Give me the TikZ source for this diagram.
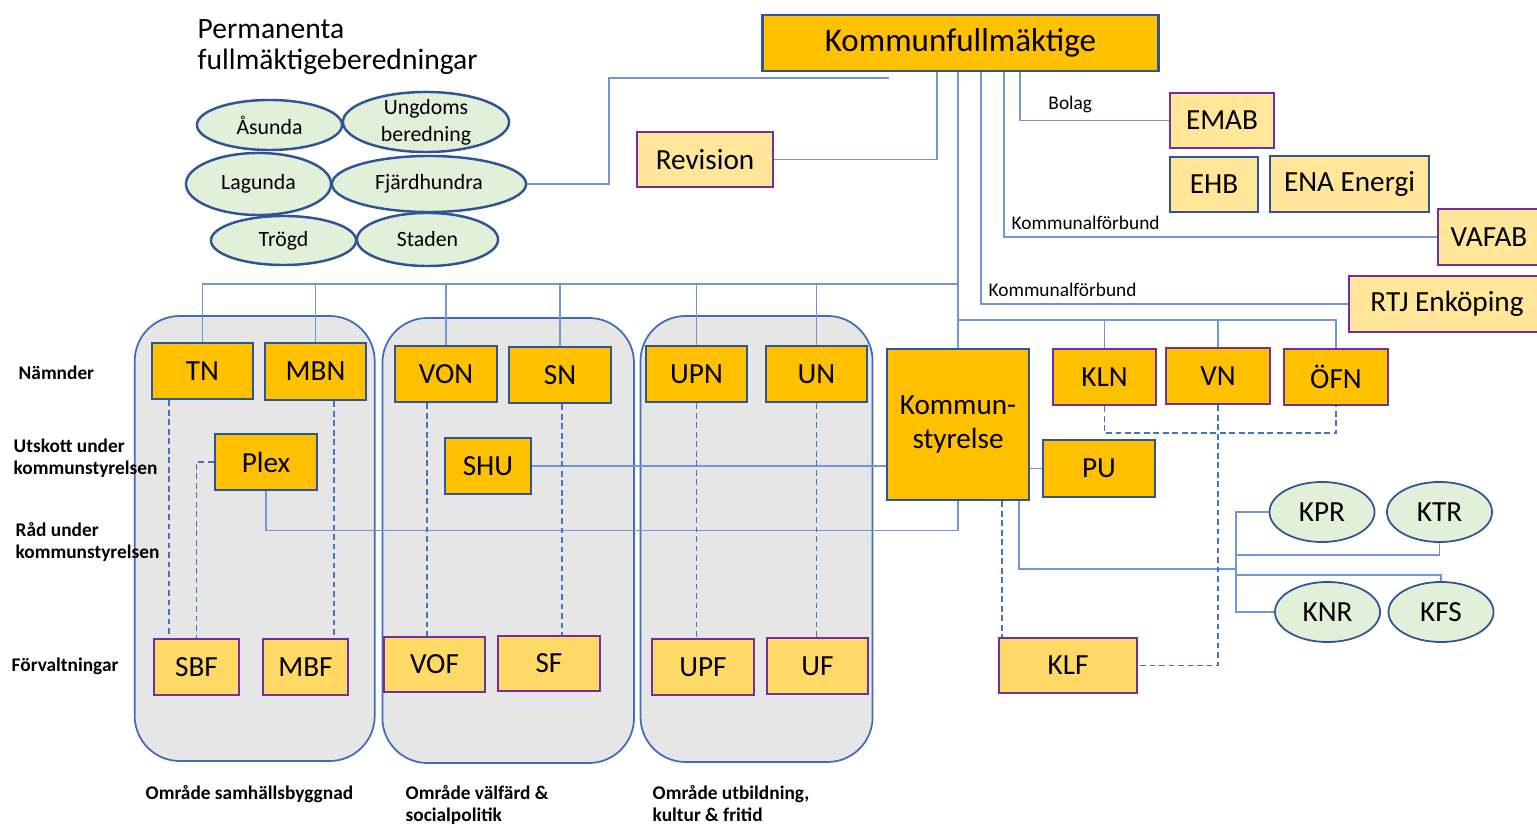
\documentclass[tikz,border=0pt]{standalone}
\usepackage{fontspec}
\setmainfont{Carlito}
\usepackage{tikz}
\usetikzlibrary{shapes}
\definecolor{gul}{HTML}{FFC000}
\definecolor{ljusgul}{HTML}{FFE699}
\definecolor{mellangul}{HTML}{FFD966}
\definecolor{morkbla}{HTML}{2F5597}
\definecolor{lila}{HTML}{7030A0}
\definecolor{linjebla}{HTML}{7397D6}
\definecolor{streckbla}{HTML}{4472C4}
\definecolor{ljusgron}{HTML}{E2F0D9}
\definecolor{gra}{HTML}{E7E6E6}
\tikzset{x=0.01cm, y=-0.01cm, minimum size=0pt, font=\fontsize{8.3}{9.4}\selectfont}
\tikzstyle{org} = [rectangle, line width=0.8pt, inner sep=0pt, minimum height=0.56cm, text centered, align=center]
\tikzstyle{namnd} = [org, draw=morkbla, fill=gul]
\tikzstyle{namndlila} = [org, draw=lila, fill=gul]
\tikzstyle{forv} = [org, draw=lila, fill=mellangul]
\tikzstyle{bolag} = [org, draw=lila, fill=ljusgul]
\tikzstyle{bolagbla} = [org, draw=morkbla, fill=ljusgul]
\tikzstyle{beredning} = [draw=morkbla, fill=ljusgron, ellipse, line width=0.7pt, inner sep=0pt, align=center, font=\fontsize{6.2}{7.6}\selectfont]
\tikzstyle{rad} = [draw=morkbla, fill=ljusgron, ellipse, line width=0.5pt, inner sep=0pt, minimum width=1.05cm, minimum height=0.6cm]
\tikzstyle{omrade} = [draw=streckbla!80!morkbla, fill=gra, line width=0.5pt, rounded corners=0.45cm]
\tikzstyle{linje} = [draw=linjebla, line width=0.35pt]
\tikzstyle{streck} = [draw=streckbla, line width=0.55pt, dash pattern=on 1.6pt off 1.1pt]
\tikzstyle{lbl} = [inner sep=2pt, font=\fontsize{5.5}{6.5}\selectfont]
\tikzstyle{rubrik} = [inner sep=0pt, align=left, anchor=north west, font=\fontsize{5.5}{6.3}\selectfont\bfseries]

\begin{document}
\begin{tikzpicture}
		\useasboundingbox (0,0) rectangle (1537,828);

		\draw [omrade] (134.7,316) rectangle (374.7,761);
		\draw [omrade] (382.4,318) rectangle (634,763);
		\draw [omrade] (640.5,316) rectangle (872.6,762);

		\node [inner sep=0pt, align=left, anchor=north west, font=\fontsize{8.4}{8.9}\selectfont] (titel) at (197,19) {Permanenta\\fullmäktigeberedningar};
		\node [beredning, minimum width=1.45cm, minimum height=0.5cm] (Asunda) at (269.5,125) {Åsunda};
		\node [beredning, minimum width=1.66cm, minimum height=0.6cm, inner ysep=-1.5pt] (Ungdoms) at (426,122) {Ungdoms\\beredning};
		\node [beredning, minimum width=1.45cm, minimum height=0.62cm] (Lagunda) at (258.5,184) {Lagunda};
		\node [beredning, minimum width=1.94cm, minimum height=0.56cm] (Fjardhundra) at (429,184) {Fjärdhundra};
		\node [beredning, minimum width=1.45cm, minimum height=0.49cm] (Trogd) at (283.5,240.5) {Trögd};
		\node [beredning, minimum width=1.41cm, minimum height=0.53cm] (Staden) at (427.5,239.5) {Staden};

		\node [namnd, minimum width=3.95cm, font=\fontsize{9.4}{10}\selectfont] (KF) at (960.5,43) {Kommunfullmäktige};
		\node [bolag, minimum width=1.36cm, minimum height=0.55cm] (Revision) at (705,159.5) {Revision};
		\node [bolag, minimum width=1.04cm, minimum height=0.55cm] (EMAB) at (1222,120.5) {EMAB};
		\node [bolagbla, minimum width=0.88cm, minimum height=0.55cm] (EHB) at (1214,184.5) {EHB};
		\node [bolagbla, minimum width=1.59cm] (ENA) at (1349.5,184) {ENA Energi};
		\node [bolag, minimum width=1.02cm] (VAFAB) at (1489,237) {VAFAB};
		\node [bolag, minimum width=1.96cm] (RTJ) at (1447,304) {RTJ Enköping};

		\node [namnd, minimum width=1.42cm, minimum height=1.51cm] (KS) at (958,424.5) {Kommun-\\styrelse};
		\node [namndlila, minimum width=1.03cm] (KLN) at (1104.5,377) {KLN};
		\node [namndlila, minimum width=1.04cm] (VN) at (1218,376) {VN};
		\node [namndlila, minimum width=1.04cm] (OFN) at (1336,377) {ÖFN};
		\node [namnd, minimum width=1.12cm, minimum height=0.57cm] (PU) at (1099,468.5) {PU};
		\node [forv, minimum width=1.38cm, minimum height=0.55cm] (KLF) at (1068,665.5) {KLF};
		\node [rad] (KPR) at (1322,512) {KPR};
		\node [rad] (KTR) at (1439.5,512) {KTR};
		\node [rad] (KNR) at (1327.5,612) {KNR};
		\node [rad] (KFS) at (1441,612) {KFS};

		\node [namnd, minimum width=1.01cm] (TN) at (202.5,371) {TN};
		\node [namnd, minimum width=1.01cm, minimum height=0.57cm] (MBN) at (315.5,371.5) {MBN};
		\node [namnd, minimum width=1.02cm] (Plex) at (266,462) {Plex};
		\node [forv, minimum width=0.85cm] (SBF) at (196.5,667) {SBF};
		\node [forv, minimum width=0.85cm] (MBF) at (305.5,667) {MBF};
		\node [namnd, minimum width=1.02cm] (VON) at (446,374) {VON};
		\node [namnd, minimum width=1.02cm] (SN) at (560,375) {SN};
		\node [namnd, minimum width=0.86cm] (SHU) at (488,466) {SHU};
		\node [forv, minimum width=1.01cm, minimum height=0.55cm] (VOF) at (434.5,664.5) {VOF};
		\node [forv, minimum width=1.02cm, minimum height=0.55cm] (SF) at (549,663.5) {SF};
		\node [namnd, minimum width=1.01cm] (UPN) at (696.5,374) {UPN};
		\node [namnd, minimum width=1.01cm] (UN) at (816.5,374) {UN};
		\node [forv, minimum width=1.02cm] (UPF) at (703,667) {UPF};
		\node [forv, minimum width=1.01cm] (UF) at (817.5,666) {UF};

		\node [rubrik] (namnder) at (18,365) {Nämnder};
		\node [rubrik] (utskott) at (13,438) {Utskott under\\kommunstyrelsen};
		\node [rubrik] (radlbl) at (15,522) {Råd under\\kommunstyrelsen};
		\node [rubrik] (forvaltningar) at (11,657) {Förvaltningar};
		\node [rubrik] (omrade1) at (145,785) {Område samhällsbyggnad};
		\node [rubrik] (omrade2) at (405,785) {Område välfärd \&\\socialpolitik};
		\node [rubrik] (omrade3) at (652,785) {Område utbildning,\\kultur \& fritid};

		\coordinate (kfslut) at (889,78);
		\coordinate (buss) at (958,284);
		\coordinate (buss2) at (958,320);
		\coordinate (radnod) at (1236,569);

		\draw [linje] (Fjardhundra.east) -- (609,184) |- (kfslut);
		\draw [linje] (Revision.east) -| ([xshift=-0.235cm]KF.south);
		\draw [linje] ([xshift=0.595cm]KF.south) |- node [lbl, pos=0.57, above right] (bolaglbl) {Bolag} (EMAB.west);
		\draw [linje] ([xshift=0.435cm]KF.south) |- node [lbl, pos=0.5, above right] (kfb1) {Kommunalförbund} (VAFAB.west);
		\draw [linje] ([xshift=0.205cm]KF.south) |- node [lbl, pos=0.5, above right] (kfb2) {Kommunalförbund} (RTJ.west);
		\draw [linje] (KS.north |- KF.south) -- (KS.north);
		\draw [linje] (TN.north) |- (buss);
		\draw [linje] (MBN.north) -- (MBN.north |- buss);
		\draw [linje] (VON.north) -- (VON.north |- buss);
		\draw [linje] (SN.north) -- (SN.north |- buss);
		\draw [linje] (UPN.north) -- (UPN.north |- buss);
		\draw [linje] (UN.north) -- (UN.north |- buss);
		\draw [linje] (buss2) -| (OFN.north);
		\draw [linje] (KLN.north) -- (KLN.north |- buss2);
		\draw [linje] (VN.north) -- (VN.north |- buss2);
		\draw [linje] (Plex.south) |- ([yshift=-0.29cm]KS.south) -- (KS.south);
		\draw [linje] (SHU.east) -- (KS.west |- SHU.east);
		\draw [linje] (KS.east |- PU.west) -- (PU.west);
		\draw [linje] ([xshift=0.61cm]KS.south) |- (radnod);
		\draw [linje] (KPR.west) -| (radnod) |- (KNR.west);
		\draw [linje] (KTR.south) -- ++(0,12) -| (radnod);
		\draw [linje] (KFS.north) -- ++(0,-6) -| (radnod);

		\draw [streck] ([xshift=-0.335cm]TN.south) -- ([xshift=-0.335cm]TN.south |- SBF.north);
		\draw [streck] (Plex.west) -| (SBF.north);
		\draw [streck] ([xshift=0.185cm]MBN.south) -- ([xshift=0.185cm]MBN.south |- MBF.north);
		\draw [streck] ([xshift=-0.19cm]VON.south) -- ([xshift=-0.19cm]VON.south |- VOF.north);
		\draw [streck] ([xshift=0.02cm]SN.south) -- ([xshift=0.02cm]SN.south |- SF.north);
		\draw [streck] (UPN.south) -- (UPN.south |- UPF.north);
		\draw [streck] (UN.south) -- (UN.south |- UF.north);
		\draw [streck] ([xshift=0.44cm]KS.south) -- ([xshift=0.44cm]KS.south |- KLF.north);
		\draw [streck] (VN.south) |- (KLF.east);
		\draw [streck] (KLN.south) -- ++(0,27) -| (OFN.south);
	\end{tikzpicture}
\end{document}
